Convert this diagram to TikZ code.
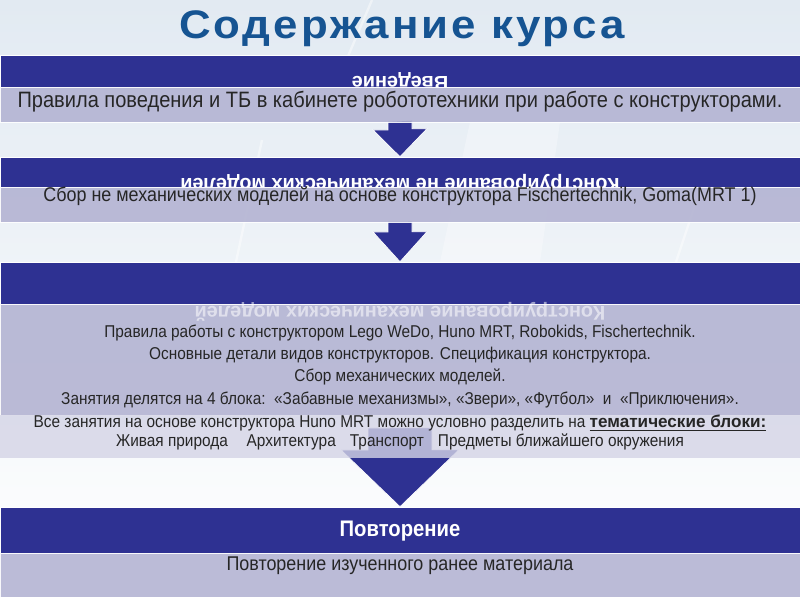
\documentclass[tikz,border=0pt]{standalone}
\usepackage{fontspec}
\setmainfont{Liberation Sans}
\newfontfamily\narrowsans[FakeStretch=0.9]{Liberation Sans}
\newfontfamily\widesans[FakeStretch=1.1, LetterSpace=7.5]{Liberation Sans}
\usetikzlibrary{calc,fit}
\definecolor{kursblue}{RGB}{46,49,146}
\definecolor{kurslav}{RGB}{178,178,210}
\definecolor{kurslight}{RGB}{212,212,230}
\definecolor{kurstitle}{RGB}{22,84,146}
\definecolor{kursbg}{RGB}{226,234,242}
\tikzset{
  hband/.style ={fill=kursblue, draw=white, line width=0.5pt, inner sep=0pt},
  bband/.style ={fill=kurslav, fill opacity=0.88, draw=white, draw opacity=0.9,
                 line width=0.5pt, inner sep=0pt},
  lband/.style ={fill=kurslight, fill opacity=0.8, draw=none, inner sep=0pt},
  htext/.style ={text=white, font=\bfseries\fontsize{17}{17}\selectfont,
                 inner sep=0pt, rotate=180},
  hplain/.style={text=white, font=\narrowsans\bfseries\fontsize{19.2}{19.2}\selectfont,
                 inner sep=0pt, anchor=base},
  btext/.style ={text=black!85, inner sep=0pt, anchor=base},
  bbig/.style  ={btext, font=\narrowsans\fontsize{19}{19}\selectfont},
  bmid/.style  ={btext, font=\narrowsans\fontsize{17}{17}\selectfont},
  bsmall/.style={btext, font=\narrowsans\fontsize{14.6}{14.6}\selectfont},
  barrow/.style={fill=kursblue, draw=white, line width=0.6pt, line join=miter},
  streak/.style={white, opacity=0.45, line width=2pt},
}
\begin{document}
\begin{tikzpicture}[x=0.03cm, y=-0.03cm]
\useasboundingbox (0,0) rectangle (800,600);
\shade[top color=kursbg, bottom color=white] (0,0) rectangle (800,600);
\draw[streak] (372,0) -- (340,75); \draw[streak] (262,140) -- (236,262);
\draw[streak] (700,190) -- (676,262); \fill[white, opacity=0.3] (470,122) -- (560,122) -- (540,262) -- (440,262) -- cycle;

\node[font=\widesans\bfseries\fontsize{34}{34}\selectfont, text=kurstitle, anchor=base, inner sep=0pt] (title) at (402,39) {Содержание курса};

% bands
\node[hband, fit={(0,55)(800,87)}]   (hdrA) {};
\node[hband, fit={(0,157)(800,187)}] (hdrB) {};
\node[hband, fit={(0,262)(800,304)}] (hdrC) {};
\node[hband, fit={(0,507)(800,553)}] (hdrD) {};

% arrows
\coordinate (stemC) at (400,428);
\draw[barrow] ($(400,122)+(-12,0)$) -- ++(0,8) -- ++(-15,0) -- (hdrB.north) -- ++(27,-28) -- ++(-15,0) -- ++(0,-8);
\draw[barrow] ($(400,222)+(-12,0)$) -- ++(0,10) -- ++(-15,0) -- (hdrC.north) -- ++(27,-30) -- ++(-15,0) -- ++(0,-10);
\draw[barrow] ($(stemC)+(-32,0)$) -- ++(0,22) -- ++(-27,0) -- (hdrD.north) -- ++(59,-57) -- ++(-27,0) -- ++(0,-22) -- cycle;

\node[htext] (capA) at (400,81)  {Введение};
\node[htext] (capB) at (400,184) {Конструирование не механических моделей};
\node[hplain] (capD) at (400,537) {Повторение};

\node[bband, fit={(0,87)(800,122)}]  (bodyA) {};
\node[bband, fit={(0,187)(800,222)}] (bodyB) {};
\node[bband, fit={(0,304)(800,415)}] (bodyC) {};
\node[lband, fit={(0,415)(800,458)}] (lightC) {};
\node[bband, fit={(0,553)(800,597)}] (bodyD) {};
\node[htext, text opacity=0.55] (capC) at (400,312) {Конструирование механических моделей};

\node[bbig]   (txtA)  at (400,108) {Правила поведения и ТБ в кабинете робототехники при работе с конструкторами.};
\node[bmid]   (txtB)  at (400,202) {Сбор не механических моделей на основе конструктора Fischertechnik, Goma(MRT 1)};
\node[bsmall] (txtC1) at (400,338) {Правила работы с конструктором Lego WeDo, Huno MRT, Robokids, Fischertechnik.};
\node[bsmall] (txtC2) at (400,360) {Основные детали видов конструкторов. Спецификация конструктора.};
\node[bsmall] (txtC3) at (400,382) {Сбор механических моделей.};
\node[bsmall] (txtC4) at (400,405) {Занятия делятся на 4 блока:\ \ «Забавные механизмы», «Звери», «Футбол»\ \ и\ \ «Приключения».};
\node[bsmall] (txtC5) at (400,428) {Все занятия на основе конструктора Huno MRT можно условно разделить на {\normalfont\bfseries\underline{тематические блоки:}}};
\node[bsmall] (txtC6) at (400,447) {Живая природа\hspace{16pt}Архитектура\hspace{12pt}Транспорт\hspace{12pt}Предметы ближайшего окружения};
\node[bmid]   (txtD)  at (400,571) {Повторение изученного ранее материала};
\end{tikzpicture}
\end{document}
